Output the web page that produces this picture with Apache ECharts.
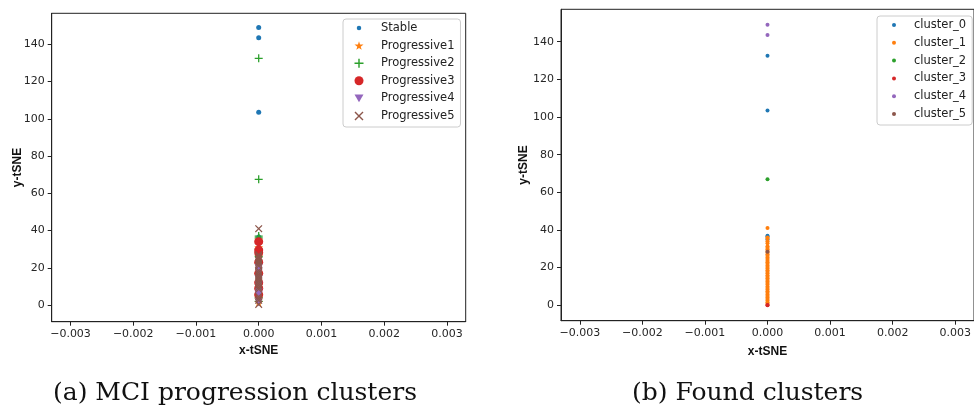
<!DOCTYPE html>
<html><head><meta charset="utf-8">
<script src="https://cdn.jsdelivr.net/npm/echarts@6/dist/echarts.min.js"></script>
<style>html,body{margin:0;padding:0;background:#fff}#c{width:974px;height:415px}</style>
</head><body><div id="c"></div>
<script>
// ---- tick labels ----
const xTicks = [-0.003, -0.002, -0.001, 0, 0.001, 0.002, 0.003];
const yTicks = [0, 20, 40, 60, 80, 100, 120, 140];
// ---- all points share x-tSNE = 0.000 (as drawn) ----
const tsneX = 0;
// ---- (a) MCI progression clusters: y-tSNE values ----
const progNames = ['Stable', 'Progressive1', 'Progressive2', 'Progressive3', 'Progressive4', 'Progressive5'];
const stableY = [149, 143.5, 103.5, 36.5, 33, 27, 21, 15, 9, 3];
const prog1Y = [35, 31, 26, 22, 17, 12, 8, 4.5, 3, 1.5];
const prog2Y = [132.5, 67.5, 37, 36, 30, 26, 4, 2];
const prog3Y = [34, 29.5, 28, 23, 17, 12, 9, 5.5];
const prog4Y = [20, 18, 14, 10.5, 7, 5.5, 1.5];
const prog5Y = [41, 27, 26, 25, 24, 23, 22, 21, 18.5, 17.5, 16.5, 15.5, 14.5, 13.5, 12.5, 11.5, 10.5, 9.5, 8.5, 4.5, 3.5, 2.5, 0.3];
// ---- (b) Found clusters: y-tSNE values ----
const clusterNames = ['cluster_0', 'cluster_1', 'cluster_2', 'cluster_3', 'cluster_4', 'cluster_5'];
const cluster0Y = [132.5, 103.5, 37, 36.5, 35];
const cluster1Y = [41, 36, 35.5, 34, 33, 31.3, 30.5, 29.7, 28.8, 28, 27.1, 26.3, 25.4, 24.6, 23.7, 22.9, 22, 21.2, 20.3, 19.5, 18.6, 17.8, 17, 16, 15.2, 14.4, 13.5, 12.7, 11.8, 11, 10, 9.2, 8.4, 7.5, 6.7, 5.8, 5, 4.1, 3.3, 2.5, 1.6, 0.8];
const cluster2Y = [67];
const cluster3Y = [0, 0.2];
const cluster4Y = [149, 143.5];
const cluster5Y = [28.5];

const colors = ['#1f77b4', '#ff7f0e', '#2ca02c', '#d62728', '#9467bd', '#8c564b'];
const STAR = 'path://M50,0 L61,35 L98,35 L68,57 L79,91 L50,70 L21,91 L32,57 L2,35 L39,35 Z';
const PLUS = 'path://M42,0 H58 V42 H100 V58 H58 V100 H42 V58 H0 V42 H42 Z';
const CROSS = 'path://M0,11 L11,0 L50,39 L89,0 L100,11 L61,50 L100,89 L89,100 L50,61 L11,100 L0,89 L39,50 Z';
const TRIDOWN = 'path://M0,0 L100,0 L50,87 Z';
const SMALLDOT = 'path://M0,0 M100,100 M25,50 A25,25 0 1,1 75,50 A25,25 0 1,1 25,50 Z';

const pts = ys => ys.map(y => [tsneX, y]);
const fmtX = v => (v < 0 ? '\u2212' : '') + Math.abs(v).toFixed(3);

function xAx(gi, gap) {
  return {
    type: 'value', gridIndex: gi, min: -0.0033, max: 0.0033,
    name: 'x-tSNE', nameLocation: 'middle', nameGap: gap, nameMoveOverlap: false,
    nameTextStyle: { fontFamily: 'Liberation Sans', fontWeight: 'bold', fontSize: 12, color: '#111' },
    axisLine: { onZero: false, lineStyle: { color: '#222', width: 1 } },
    axisTick: { show: true, inside: false, length: 4, customValues: xTicks, lineStyle: { color: '#222' } },
    axisLabel: { customValues: xTicks, margin: 7, fontFamily: 'DejaVu Sans', fontSize: 11, color: '#262626', formatter: fmtX },
    splitLine: { show: false }
  };
}
function yAx(gi, min, max, gap) {
  return {
    type: 'value', gridIndex: gi, min: min, max: max,
    name: 'y-tSNE', nameLocation: 'middle', nameGap: gap, nameMoveOverlap: false,
    nameTextStyle: { fontFamily: 'Liberation Sans', fontWeight: 'bold', fontSize: 12, color: '#111' },
    axisLine: { onZero: false, lineStyle: { color: '#222', width: 1 } },
    axisTick: { show: true, inside: false, length: 4, customValues: yTicks, lineStyle: { color: '#222' } },
    axisLabel: { customValues: yTicks, margin: 7, fontFamily: 'DejaVu Sans', fontSize: 11, color: '#262626' },
    splitLine: { show: false }
  };
}

const leftSeriesData = [stableY, prog1Y, prog2Y, prog3Y, prog4Y, prog5Y];
const leftSymbols = [
  { symbol: 'circle', symbolSize: 5 },
  { symbol: STAR, symbolSize: 9 },
  { symbol: PLUS, symbolSize: 8 },
  { symbol: 'circle', symbolSize: 9 },
  { symbol: TRIDOWN, symbolSize: 8 },
  { symbol: CROSS, symbolSize: 7.5 }
];
const rightSeriesData = [cluster0Y, cluster1Y, cluster2Y, cluster3Y, cluster4Y, cluster5Y];

const series = [];
progNames.forEach((n, i) => {
  series.push(Object.assign({
    type: 'scatter', name: n, xAxisIndex: 0, yAxisIndex: 0,
    data: pts(leftSeriesData[i]), itemStyle: { color: colors[i], opacity: 1 }
  }, leftSymbols[i]));
});
clusterNames.forEach((n, i) => {
  series.push({
    type: 'scatter', name: n, xAxisIndex: 1, yAxisIndex: 1,
    symbol: 'circle', symbolSize: 4,
    data: pts(rightSeriesData[i]), itemStyle: { color: colors[i], opacity: 1 }
  });
});

const legendBase = {
  orient: 'vertical', selectedMode: false,
  borderColor: '#ccc', borderWidth: 1, borderRadius: 3, backgroundColor: 'rgba(255,255,255,0.8)'
};

const chart = echarts.init(document.getElementById('c'), null, { renderer: 'canvas' });
chart.setOption({
  animation: false,
  backgroundColor: '#fff',
  title: [
    { text: '(a) MCI progression clusters', left: 53, top: 381, padding: 0,
      textStyle: { fontFamily: 'DejaVu Serif', fontSize: 25, fontWeight: 'normal', color: '#111' } },
    { text: '(b) Found clusters', left: 632, top: 381, padding: 0,
      textStyle: { fontFamily: 'DejaVu Serif', fontSize: 25, fontWeight: 'normal', color: '#111' } }
  ],
  grid: [
    { left: 51.7, top: 13.3, width: 414, height: 308.4, show: true, borderColor: '#222', borderWidth: 1, backgroundColor: 'transparent' },
    { left: 561, top: 9.3, width: 415.4, height: 311.4, show: true, borderColor: '#222', borderWidth: 1, backgroundColor: 'transparent' }
  ],
  xAxis: [xAx(0, 23), xAx(1, 25)],
  yAxis: [yAx(0, -8.97, 156.65, 28), yAx(1, -8.18, 157.2, 31)],
  legend: [
    Object.assign({}, legendBase, {
      data: progNames.map((n, i) => i === 0 ? { name: n, icon: SMALLDOT } : { name: n }),
      left: 343, top: 19, padding: [2, 6, 4, 11.5], itemWidth: 9, itemHeight: 9, itemGap: 3.6,
      textStyle: { fontFamily: 'DejaVu Sans', fontSize: 11.5, color: '#222', lineHeight: 14, padding: [0, 0, 0, 12.5] }
    }),
    Object.assign({}, legendBase, {
      data: clusterNames.map(n => ({ name: n })),
      left: 877, top: 16, padding: [2, 6, 4, 15], itemWidth: 4, itemHeight: 4, itemGap: 3.8,
      textStyle: { fontFamily: 'DejaVu Sans', fontSize: 11.5, color: '#222', lineHeight: 14, padding: [0, 0, 0, 13] }
    })
  ],
  series: series
});
</script>
</body></html>
